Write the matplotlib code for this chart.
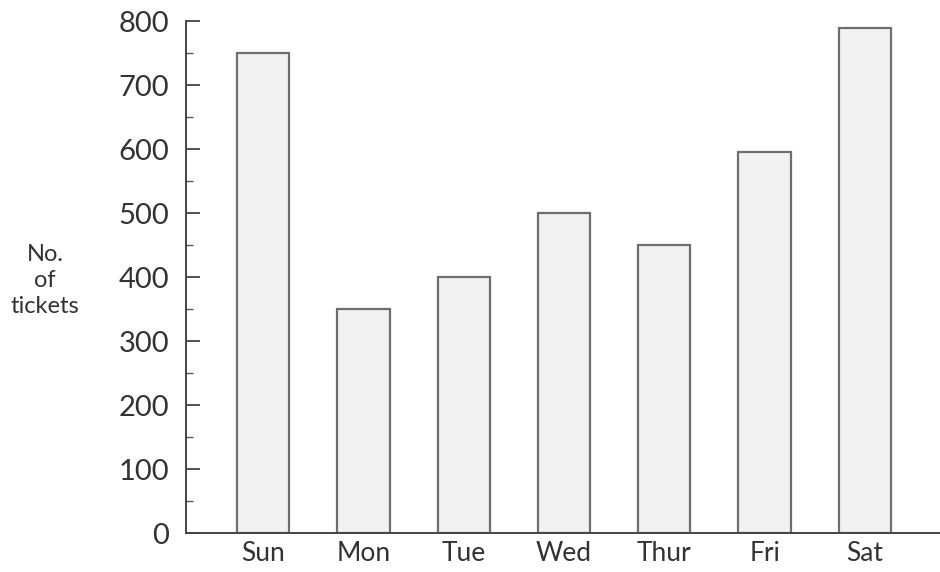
import matplotlib.pyplot as plt
from matplotlib.ticker import MultipleLocator

days = ['Sun', 'Mon', 'Tue', 'Wed', 'Thur', 'Fri', 'Sat']
tickets = [750, 350, 400, 500, 450, 595, 790]

plt.rcParams['font.family'] = ['Lato', 'DejaVu Sans']

fig = plt.figure(figsize=(9.4, 5.72), dpi=100)
ax = fig.add_axes([0.198, 0.068, 0.802, 0.895])

x = list(range(len(days)))
ax.bar(x, tickets, width=0.52, color='#f2f2f2', edgecolor='#6e6e6e', linewidth=1.6)

ax.set_xlim(-0.77, 6.75)
ax.set_ylim(0, 800)
ax.set_xticks(x)
ax.set_xticklabels(days, fontsize=19, color='#333333')
ax.yaxis.set_major_locator(MultipleLocator(100))
ax.yaxis.set_minor_locator(MultipleLocator(50))

for s in ['top', 'right']:
    ax.spines[s].set_visible(False)
for s in ['left', 'bottom']:
    ax.spines[s].set_color('#444444')
    ax.spines[s].set_linewidth(1.4)

ax.tick_params(axis='y', which='major', direction='in', length=10, width=1.3,
               color='#444444', labelsize=21, labelcolor='#333333', pad=12)
ax.tick_params(axis='y', which='minor', direction='in', length=5, width=1.0, color='#555555')
ax.tick_params(axis='x', length=0, pad=6)

fig.text(0.048, 0.51, 'No.\nof\ntickets', ha='center', va='center',
         fontsize=17, color='#333333', linespacing=1.3)

fig.savefig('out.png', dpi=100, facecolor='white')
